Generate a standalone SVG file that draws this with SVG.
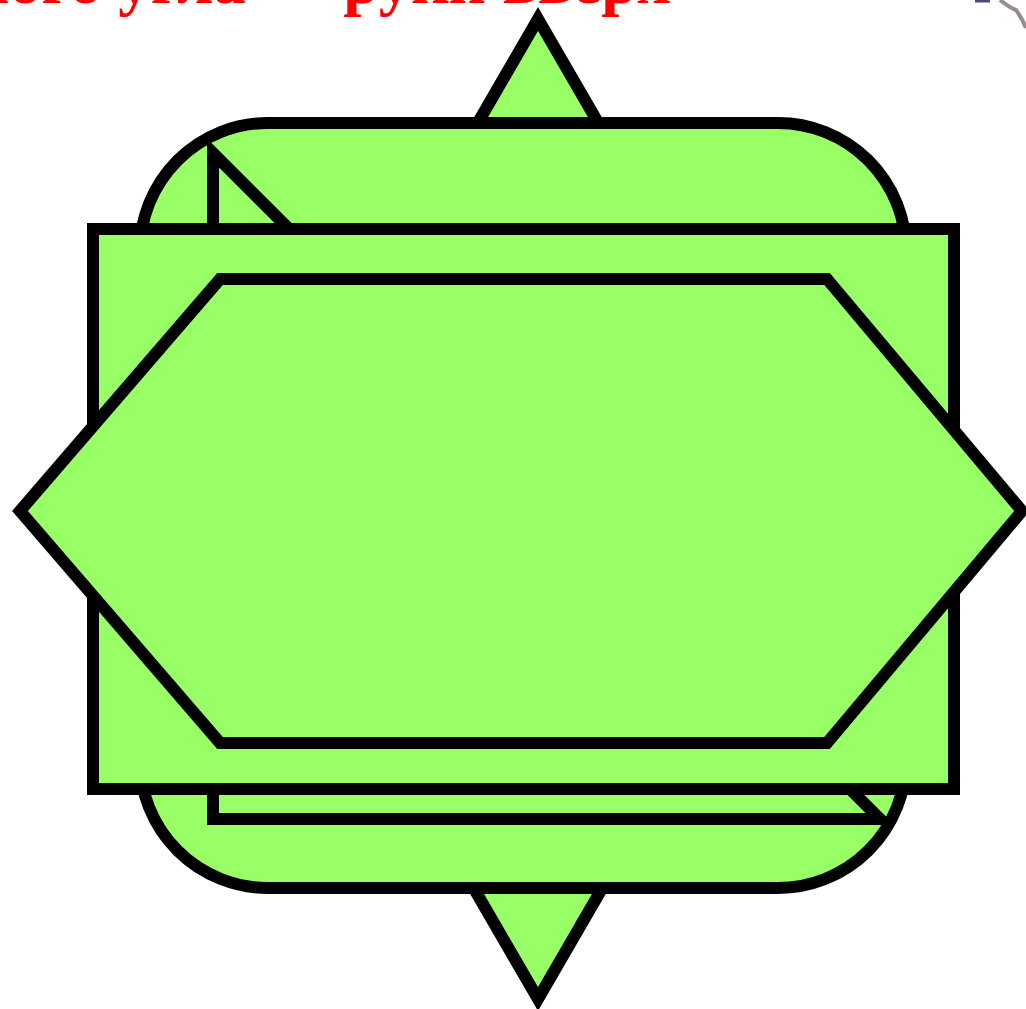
<svg xmlns="http://www.w3.org/2000/svg" width="1026" height="1009" viewBox="0 0 1026 1009">
<style>
.shape{fill:#99ff66;stroke:#000;stroke-width:12;stroke-miterlimit:10}
.title{font-family:"Liberation Serif","Times New Roman",serif;font-weight:bold;font-size:65px;fill:#ff0000}
</style>
<rect width="1026" height="1009" fill="#fff"/>
<text class="title" x="670" y="3" text-anchor="end">мого угла — руки вверх</text>
<g id="clip-edge">
<path d="M975,1 L990,1" stroke="#4a4a7a" stroke-width="3" fill="none"/>
<path d="M1000,0 Q1010,8 1016,10 Q1022,18 1026,28" stroke="#6f5a5c" stroke-width="4" fill="none" opacity="0.7"/>
</g>
<g id="diamond"><polygon class="shape" points="538,19 822,509 538,999 254,509"/></g>
<g id="rounded"><rect class="shape" x="140" y="123" width="766" height="765" rx="128" ry="128"/></g>
<g id="triangle"><polygon class="shape" points="213,153 213,819 880,819"/></g>
<g id="rectangle"><rect class="shape" x="93" y="229" width="861" height="560"/></g>
<g id="hexagon"><polygon class="shape" points="20,511 220,279 827,279 1022,511 827,743 220,743"/></g>
<g id="connectors"></g>
</svg>
